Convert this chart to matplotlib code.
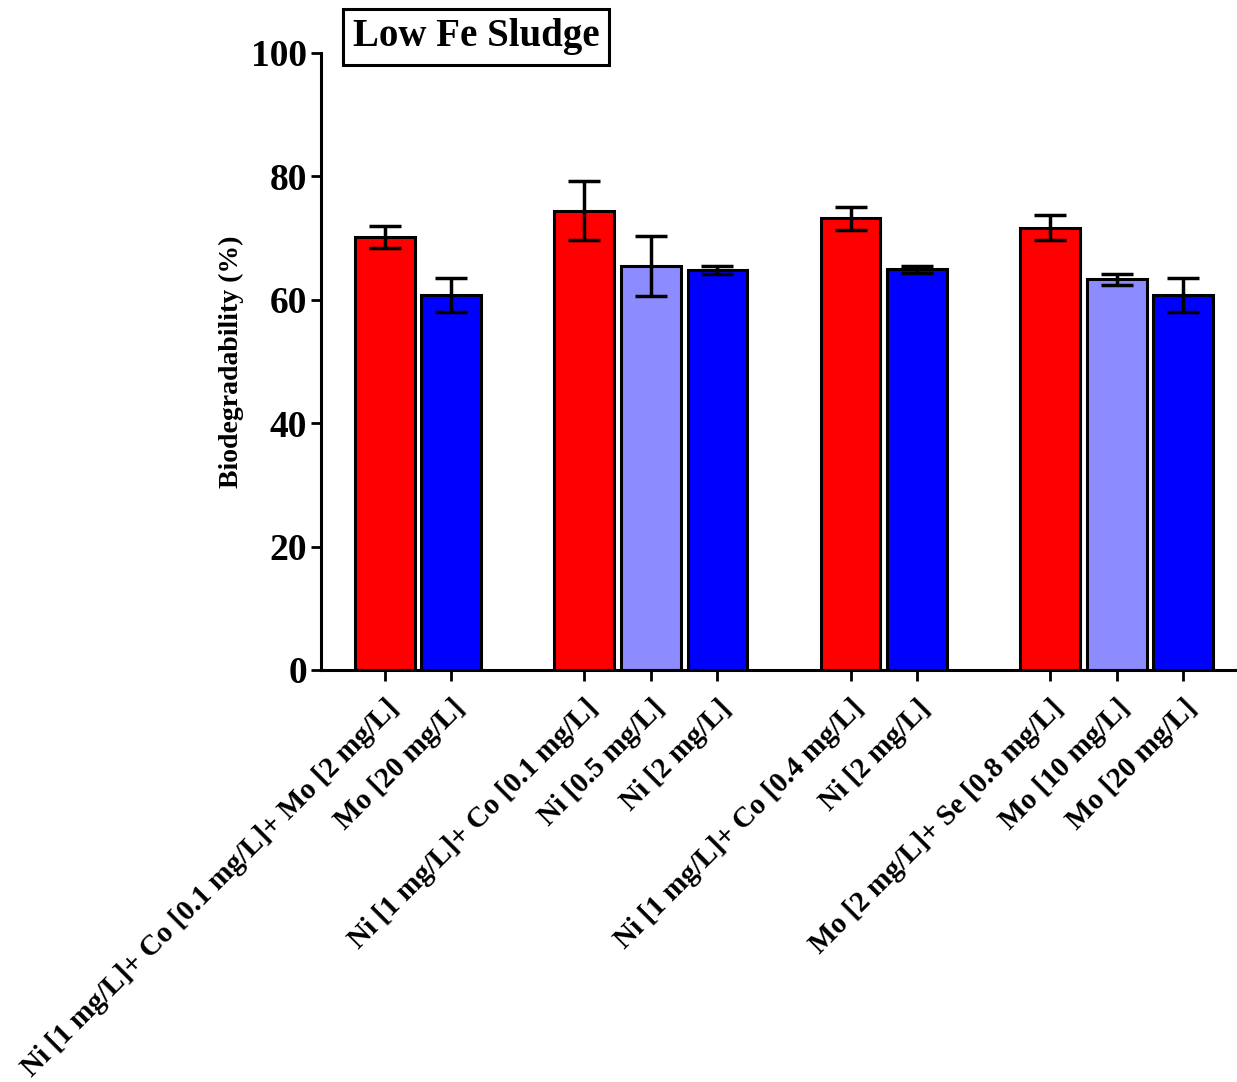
import matplotlib
matplotlib.use('Agg')
import matplotlib.pyplot as plt

# Bar data
labels = [
    'Ni [1 mg/L]+ Co [0.1 mg/L]+ Mo [2 mg/L]',
    'Mo [20 mg/L]',
    'Ni [1 mg/L]+ Co [0.1 mg/L]',
    'Ni [0.5 mg/L]',
    'Ni [2 mg/L]',
    'Ni [1 mg/L]+ Co [0.4 mg/L]',
    'Ni [2 mg/L]',
    'Mo [2 mg/L]+ Se [0.8 mg/L]',
    'Mo [10 mg/L]',
    'Mo [20 mg/L]',
]
values = [70.2, 60.8, 74.4, 65.5, 64.8, 73.2, 64.9, 71.7, 63.3, 60.7]
errors = [1.8, 2.8, 4.8, 4.85, 0.6, 1.9, 0.5, 2.0, 0.95, 2.75]
positions = [0, 1, 3, 4, 5, 7, 8, 10, 11, 12]
colors = ['#ff0000', '#0000ff', '#ff0000', '#8c8cff', '#0000ff',
          '#ff0000', '#0000ff', '#ff0000', '#8c8cff', '#0000ff']

plt.rcParams['font.family'] = ['Liberation Serif', 'DejaVu Serif']
plt.rcParams['font.weight'] = 'bold'

fig = plt.figure(figsize=(12.37, 10.82), dpi=100)
ax = fig.add_axes([0.2595, 0.3808, 0.7405, 0.5703])

ax.bar(positions, values, width=0.9, color=colors, edgecolor='black',
       linewidth=2.2, zorder=2)
ax.errorbar(positions, values, yerr=errors, fmt='none', ecolor='black',
            elinewidth=2.5, capsize=11.5, capthick=2.5, zorder=3)

ax.set_xlim(-0.96, 12.81)
ax.set_ylim(0, 100)
ax.set_yticks([0, 20, 40, 60, 80, 100])
ax.set_xticks(positions)
ax.set_xticklabels(labels, rotation=45, ha='right', rotation_mode='anchor',
                   fontsize=21, fontweight='bold')
for t in ax.get_yticklabels():
    t.set_fontsize(27)
    t.set_fontweight('bold')

ax.spines['top'].set_visible(False)
ax.spines['right'].set_visible(False)
ax.spines['left'].set_linewidth(2.2)
ax.spines['bottom'].set_linewidth(2.2)
ax.tick_params(axis='y', length=7, width=2, pad=3)
ax.tick_params(axis='x', length=8, width=2, pad=10)

ax.set_ylabel('Biodegradability (%)', fontsize=20, fontweight='bold', labelpad=5)

fig.text(0.385, 0.966, 'Low Fe Sludge', fontsize=28, fontweight='bold',
         ha='center', va='center',
         bbox=dict(boxstyle='square,pad=0.25', facecolor='white',
                   edgecolor='black', linewidth=2.2))

fig.savefig('out.png', dpi=100)
